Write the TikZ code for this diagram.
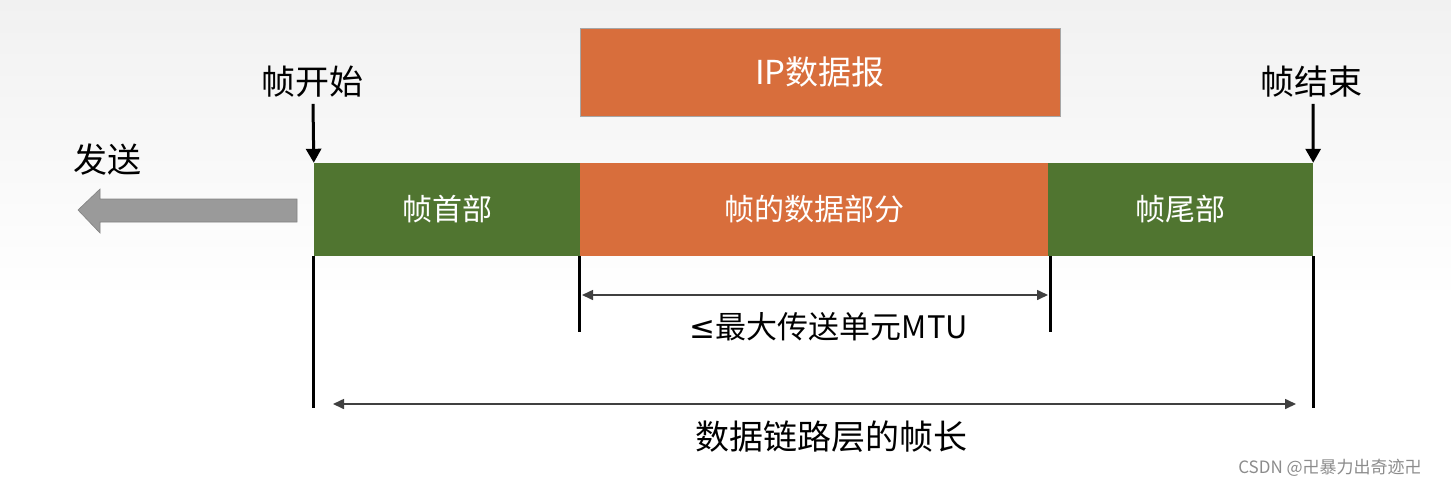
\documentclass[tikz,border=0pt]{standalone}
\usepackage{fontspec}
\setmainfont{Noto Sans CJK SC}
\newfontfamily\symfont{DejaVu Sans}
\usetikzlibrary{arrows.meta}
\definecolor{fgreen}{HTML}{507530}
\definecolor{forange}{HTML}{D86E3C}
\definecolor{sendgray}{HTML}{9A9A9A}
\definecolor{bgtop}{HTML}{F1F1F1}
\begin{document}
\begin{tikzpicture}[x=1pt,y=-1pt,
  seg/.style={minimum height=93pt,inner sep=0pt,text=white,font=\fontsize{30}{36}\selectfont},
  greenseg/.style={seg,fill=fgreen},
  orangeseg/.style={seg,fill=forange},
  lbl/.style={inner sep=0pt,font=\fontsize{34}{40}\selectfont},
  downarrow/.style={line width=3pt,-{Triangle[length=14pt,width=15pt]}},
  tick/.style={line width=3pt},
  dimline/.style={line width=1.6pt,draw=black!75,{Triangle[length=11pt,width=10pt]}-{Triangle[length=11pt,width=10pt]}}]
\useasboundingbox (0,0) rectangle (1451,488);
\shade[top color=bgtop,bottom color=white] (0,0) rectangle (1451,300);
\fill[white] (0,300) rectangle (1451,488);
% IP datagram
\node[orangeseg,draw=black!35,line width=0.8pt,minimum width=480pt,minimum height=88pt,font=\fontsize{33}{39}\selectfont] (ip) at (820,72) {IP数据报};
% frame segments
\node[greenseg,minimum width=266pt] (hdr) at (447,209.5) {帧首部};
\node[orangeseg,minimum width=468pt] (data) at (814,209.5) {帧的数据部分};
\node[greenseg,minimum width=265pt] (trl) at (1180.5,209.5) {帧尾部};
% labels and down arrows
\node[lbl] (start) at (312,82) {帧开始};
\node[lbl] (end) at (1311,82) {帧结束};
\draw[downarrow] (start.south) ++(1,6) coordinate (s0) -- (hdr.north west);
\draw[downarrow] (end.south) ++(2,6) coordinate (e0) -- (trl.north east);
% send arrow
\node[lbl] (send) at (107,160) {发送};
\fill[sendgray,draw=sendgray!85!black,line width=0.6pt]
  (78,210) -- (100,189) -- (100,199) -- (297,199) -- (297,222) -- (100,222) -- (100,233) -- cycle;
% vertical ticks
\draw[tick] (hdr.south west) -- ++(0,152) coordinate (t1);
\draw[tick] (trl.south east) -- ++(0,152) coordinate (t2);
\draw[tick] (data.south west) -- ++(0,76) coordinate (t3);
\draw[tick] (data.south east) ++(2,0) coordinate (t4a) -- ++(0,76) coordinate (t4);
% MTU dimension
\coordinate (m1) at (582,295);
\coordinate (m2) at (1048,295);
\draw[dimline] (m1) -- (m2);
\node[lbl,font=\fontsize{31}{37}\selectfont] (mtu) at (829,327) {{\symfont ≤}最大传送单元MTU};
% frame length dimension
\coordinate (f1) at (333,404);
\coordinate (f2) at (1296,404);
\draw[dimline] (f1) -- (f2);
\node[lbl] (flen) at (831,437) {数据链路层的帧长};
% watermark
\node[inner sep=0pt,text=black!45,font=\fontsize{17}{20}\selectfont] (wm) at (1330,468) {CSDN @卍暴力出奇迹卍};
\end{tikzpicture}
\end{document}
